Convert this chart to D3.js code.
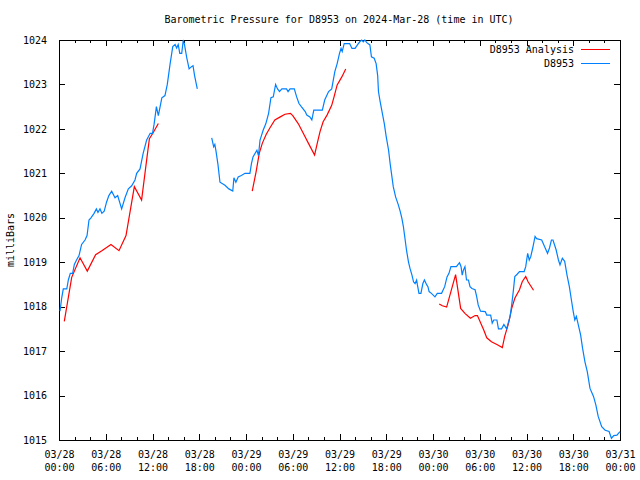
<!DOCTYPE html>
<html>
<head>
<meta charset="utf-8">
<script src="https://cdn.jsdelivr.net/npm/d3@7"></script>
<style>
  html, body { margin: 0; padding: 0; background: #fff; }
  svg { display: block; }
  text { font-family: "DejaVu Sans Mono", "Liberation Mono", monospace; font-size: 10px; fill: #000; }
</style>
</head>
<body>
<svg id="chart" width="640" height="480"></svg>
<script>
// ---- data (hours since 2024-03-28 00:00 UTC, millibars) ----
const title = "Barometric Pressure for D8953 on 2024-Mar-28 (time in UTC)";
const yLabel = "milliBars";
const seriesNames = ["D8953 Analysis", "D8953"];
const yTicks = [1015, 1016, 1017, 1018, 1019, 1020, 1021, 1022, 1023, 1024];
const xMajorHours = [0, 6, 12, 18, 24, 30, 36, 42, 48, 54, 60, 66, 72];
const xDateLabels = ["03/28","03/28","03/28","03/28","03/29","03/29","03/29","03/29","03/30","03/30","03/30","03/30","03/31"];
const xTimeLabels = ["00:00","06:00","12:00","18:00","00:00","06:00","12:00","18:00","00:00","06:00","12:00","18:00","00:00"];

// station observations (null value = gap)
const station = [
  [0.13,1017.9],[0.35,1018.2],[0.55,1018.4],[1.0,1018.4],[1.2,1018.6],[1.45,1018.75],[1.75,1018.75],[1.97,1018.95],
  [2.25,1019.05],[2.57,1019.15],[2.9,1019.4],[3.34,1019.5],[3.6,1019.6],[3.85,1019.95],[4.1,1020.0],[4.5,1020.1],
  [4.8,1020.2],[5.0,1020.12],[5.26,1020.2],[5.5,1020.1],[5.8,1020.15],[6.1,1020.35],[6.4,1020.5],[6.76,1020.6],
  [7.19,1020.45],[7.53,1020.5],[8.04,1020.2],[8.47,1020.45],[8.9,1020.65],[9.33,1020.72],[9.75,1020.85],[9.97,1021.0],
  [10.4,1021.1],[10.8,1021.45],[11.25,1021.75],[11.7,1021.9],[12.0,1021.9],[12.2,1022.1],[12.35,1022.3],[12.5,1022.5],
  [12.75,1022.3],[13.2,1022.7],[13.6,1022.75],[13.9,1023.0],[14.25,1023.45],[14.6,1023.85],[14.9,1023.9],[15.1,1023.82],
  [15.3,1023.9],[15.5,1023.7],[15.75,1023.7],[15.95,1024.0],[16.1,1023.9],[16.4,1023.6],[16.7,1023.35],[17.0,1023.4],
  [17.2,1023.42],[17.4,1023.2],[17.75,1022.9],
  [18.6,null],
  [19.6,1021.8],[19.85,1021.6],[20.0,1021.65],[20.15,1021.5],[20.4,1021.2],[20.66,1020.8],[21.3,1020.73],[21.8,1020.65],
  [22.3,1020.6],[22.45,1020.9],[22.7,1020.8],[23.0,1020.92],[23.4,1020.95],[23.87,1021.0],[24.5,1021.0],[24.7,1021.22],
  [24.9,1021.37],[25.4,1021.52],[25.6,1021.4],[25.8,1021.75],[26.2,1021.97],[26.55,1022.12],[26.9,1022.35],[27.2,1022.7],
  [27.5,1022.72],[27.8,1023.0],[28.05,1022.9],[28.3,1022.84],[28.6,1022.9],[29.2,1022.9],[29.4,1022.84],[29.65,1022.9],
  [30.2,1022.9],[30.5,1022.72],[30.8,1022.57],[31.1,1022.5],[31.6,1022.39],[31.8,1022.31],[32.2,1022.27],[32.45,1022.2],
  [32.7,1022.42],[33.8,1022.42],[34.1,1022.65],[34.6,1022.84],[35.0,1022.9],[35.4,1023.29],[35.7,1023.47],[36.0,1023.7],
  [36.2,1023.81],[36.35,1023.74],[36.6,1023.92],[37.3,1023.92],[37.6,1023.81],[38.0,1023.81],[38.3,1023.89],[38.6,1023.96],
  [38.85,1024.0],[39.05,1023.96],[39.25,1024.0],[39.5,1023.94],[39.9,1023.89],[40.1,1023.62],[40.45,1023.59],[40.7,1023.47],
  [40.9,1023.2],[41.0,1022.84],[41.2,1022.63],[41.5,1022.35],[41.75,1022.12],[42.0,1021.82],[42.3,1021.52],[42.5,1021.22],
  [42.7,1020.96],[42.9,1020.7],[43.2,1020.47],[43.55,1020.29],[43.8,1020.14],[44.0,1019.99],[44.2,1019.8],[44.4,1019.54],
  [44.6,1019.27],[44.85,1019.01],[45.05,1018.86],[45.3,1018.71],[45.5,1018.56],[45.7,1018.52],[45.9,1018.6],[46.0,1018.49],
  [46.2,1018.3],[46.45,1018.3],[46.7,1018.52],[46.9,1018.6],[47.2,1018.49],[47.35,1018.45],[47.5,1018.34],[47.8,1018.3],
  [48.25,1018.22],[48.55,1018.3],[49.1,1018.3],[49.5,1018.45],[49.8,1018.67],[50.05,1018.75],[50.3,1018.9],[51.0,1018.9],
  [51.4,1018.99],[51.6,1018.9],[51.75,1018.71],[51.9,1018.82],[52.1,1018.9],[52.3,1018.6],[52.55,1018.6],[52.75,1018.45],
  [53.0,1018.41],[53.4,1018.38],[53.6,1018.23],[53.8,1018.04],[54.1,1017.9],[54.7,1017.89],[54.9,1017.81],[55.4,1017.81],
  [55.6,1017.63],[55.8,1017.7],[56.2,1017.7],[56.4,1017.5],[56.8,1017.5],[57.1,1017.6],[57.45,1017.5],[57.6,1017.6],
  [57.9,1017.78],[58.1,1018.04],[58.3,1018.34],[58.5,1018.68],[58.8,1018.73],[59.1,1018.79],[59.7,1018.79],[59.9,1018.9],
  [60.15,1019.2],[60.35,1019.05],[60.55,1019.13],[60.8,1019.32],[61.1,1019.58],[61.3,1019.53],[61.95,1019.5],[62.4,1019.32],
  [62.7,1019.2],[62.95,1019.32],[63.2,1019.5],[63.4,1019.5],[63.8,1019.28],[64.1,1019.05],[64.3,1018.94],[64.6,1019.09],
  [64.9,1019.02],[65.2,1018.71],[65.5,1018.45],[65.8,1018.11],[66.0,1017.89],[66.2,1017.7],[66.4,1017.78],[66.65,1017.59],
  [66.95,1017.36],[67.2,1017.06],[67.5,1016.76],[67.8,1016.54],[68.15,1016.16],[68.6,1015.98],[68.9,1015.79],[69.2,1015.53],
  [69.65,1015.3],[70.1,1015.22],[70.6,1015.19],[70.9,1015.04],[71.2,1015.1],[71.6,1015.11],[72.0,1015.19]
];

// analysis (null value = gap)
const analysis = [
  [0.68,1017.67],[1.63,1018.66],[2.7,1019.1],[3.63,1018.8],[4.7,1019.17],[5.5,1019.26],[6.67,1019.4],[7.7,1019.26],
  [8.6,1019.6],[9.67,1020.7],[10.6,1020.4],[11.17,1021.19],[11.6,1021.78],[12.1,1021.92],[12.75,1022.12],
  [18.0,null],
  [24.8,1020.6],[25.3,1021.04],[25.7,1021.45],[26.1,1021.68],[26.6,1021.88],[27.1,1022.03],[27.7,1022.2],[28.4,1022.27],
  [29.0,1022.33],[29.7,1022.35],[30.0,1022.3],[30.7,1022.12],[31.35,1021.9],[32.0,1021.68],[32.8,1021.41],[33.15,1021.68],
  [33.5,1021.94],[33.9,1022.16],[34.4,1022.31],[35.0,1022.53],[35.3,1022.72],[35.7,1022.99],[36.3,1023.17],[36.8,1023.35],
  [42.0,null],
  [48.8,1018.06],[49.2,1018.02],[49.75,1017.99],[50.9,1018.72],[51.55,1017.96],[52.1,1017.85],[52.8,1017.74],[53.4,1017.8],
  [53.7,1017.8],[54.5,1017.48],[54.9,1017.3],[55.5,1017.21],[56.2,1017.15],[56.9,1017.08],[57.2,1017.33],[57.7,1017.63],
  [58.1,1017.96],[58.5,1018.19],[59.1,1018.38],[59.45,1018.56],[59.9,1018.68],[60.2,1018.56],[60.9,1018.37]
];

// ---- layout ----
const L = 59, R = 620, T = 40, B = 440;
const colors = { analysis: "#ff0000", station: "#0080ff" };

const svg = d3.select("#chart");
const x = d3.scaleLinear().domain([0, 72]).range([L, R]);
const y = d3.scaleLinear().domain([1015, 1024]).range([B, T]);

// title
svg.append("text").attr("x", 339).attr("y", 23).attr("text-anchor", "middle").text(title);

// y label
svg.append("text").attr("transform", "translate(14,240) rotate(-90)")
  .attr("text-anchor", "middle").text(yLabel);

const minorHours = d3.range(0, 73, 2).filter(h => h % 6 !== 0);

function styleAxis(g) {
  g.select(".domain").remove();
  g.selectAll("line").attr("stroke", "#000").attr("shape-rendering", "crispEdges");
  g.selectAll("text").style("font-family", '"DejaVu Sans Mono", monospace').style("font-size", "10px").attr("fill", "#000");
}

// bottom axes
const gb = svg.append("g").attr("transform", `translate(0,${B})`)
  .call(d3.axisBottom(x).tickValues(xMajorHours).tickSize(-6).tickPadding(0).tickFormat(""));
gb.call(styleAxis);
gb.selectAll(".tick text").each(function(d, i) {
  const t = d3.select(this).attr("y", 0).attr("dy", null);
  t.append("tspan").attr("x", 0).attr("y", 18).text(xDateLabels[i]);
  t.append("tspan").attr("x", 0).attr("y", 31).text(xTimeLabels[i]);
});
svg.append("g").attr("transform", `translate(0,${B})`)
  .call(d3.axisBottom(x).tickValues(minorHours).tickSize(-3).tickFormat(""))
  .call(styleAxis);

// top axes (mirror)
svg.append("g").attr("transform", `translate(0,${T})`)
  .call(d3.axisTop(x).tickValues(xMajorHours).tickSize(-6).tickFormat(""))
  .call(styleAxis);
svg.append("g").attr("transform", `translate(0,${T})`)
  .call(d3.axisTop(x).tickValues(minorHours).tickSize(-3).tickFormat(""))
  .call(styleAxis);

// left/right axes
svg.append("g").attr("transform", `translate(${L},0)`)
  .call(d3.axisLeft(y).tickValues(yTicks).tickSize(-6).tickPadding(12).tickFormat(d3.format("d")))
  .call(styleAxis);
svg.append("g").attr("transform", `translate(${R},0)`)
  .call(d3.axisRight(y).tickValues(yTicks).tickSize(-6).tickFormat(""))
  .call(styleAxis);

// frame
svg.append("rect").attr("x", L).attr("y", T).attr("width", R - L).attr("height", B - T)
  .attr("fill", "none").attr("stroke", "#000").attr("shape-rendering", "crispEdges");

// lines
const line = d3.line().defined(d => d[1] !== null).x(d => x(d[0])).y(d => y(d[1]));
svg.append("path").datum(analysis).attr("d", line)
  .attr("fill", "none").style("stroke", colors.analysis).attr("stroke-width", 1.2);
svg.append("path").datum(station).attr("d", line)
  .attr("fill", "none").style("stroke", colors.station).attr("stroke-width", 1.2);

// legend
const legend = [
  { name: seriesNames[0], color: colors.analysis, cy: 49 },
  { name: seriesNames[1], color: colors.station, cy: 63 }
];
legend.forEach(l => {
  svg.append("text").attr("x", 574).attr("y", l.cy + 3.5).attr("text-anchor", "end").text(l.name);
  svg.append("rect").attr("x", 581).attr("y", l.cy).attr("width", 29).attr("height", 1)
    .style("fill", l.color).attr("shape-rendering", "crispEdges");
});
</script>
</body>
</html>
